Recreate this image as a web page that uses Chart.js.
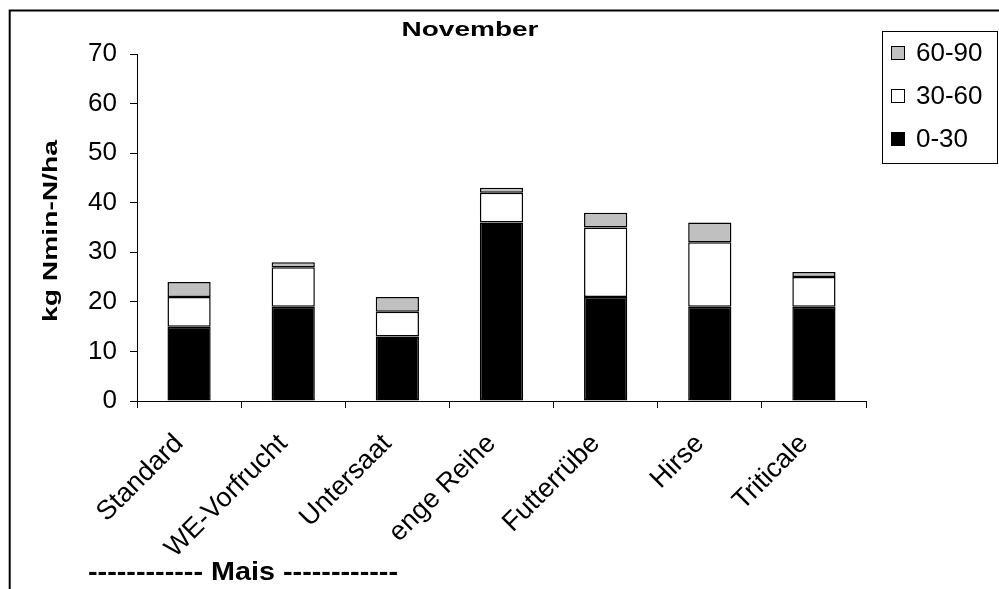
<!DOCTYPE html>
<html>
<head>
<meta charset="utf-8">
<script src="https://cdn.jsdelivr.net/npm/chart.js@4.4.1/dist/chart.umd.min.js"></script>
<style>
  html, body { margin: 0; padding: 0; background: #fff; }
  #wrap { position: relative; width: 999px; height: 589px; }
</style>
</head>
<body>
<div id="wrap"><canvas id="c" width="999" height="589"></canvas></div>
<script>
const categories = ['Standard', 'WE-Vorfrucht', 'Untersaat', 'enge Reihe', 'Futterrübe', 'Hirse', 'Triticale'];
const depth0_30  = [15, 19, 13, 36, 21, 19, 19];
const depth30_60 = [6, 8, 5, 6, 14, 13, 6];
const depth60_90 = [3, 1, 3, 1, 3, 4, 1];
const seriesLabels = ['0-30', '30-60', '60-90'];
const chartTitle = 'November';
const yAxisTitle = 'kg Nmin-N/ha';
const groupLabel = '------------ Mais ------------';

const FONT = "'Liberation Sans', Arial, sans-serif";

function stretchedText(ctx, text, x, y, width, align) {
  const natural = ctx.measureText(text).width;
  const sx = width / natural;
  ctx.save();
  ctx.translate(align === 'center' ? x - width / 2 : x, y);
  ctx.scale(sx, 1);
  ctx.textAlign = 'left';
  ctx.fillText(text, 0, 0);
  ctx.restore();
}

const decorPlugin = {
  id: 'decor',
  beforeDraw(chart) {
    const ctx = chart.ctx;
    ctx.save();
    ctx.fillStyle = '#fff';
    ctx.fillRect(0, 0, chart.width, chart.height);
    ctx.strokeStyle = '#000';
    ctx.lineWidth = 2;
    ctx.beginPath();
    ctx.moveTo(999, 10.5);
    ctx.lineTo(9.7, 10.5);
    ctx.lineTo(9.7, 589);
    ctx.stroke();
    ctx.restore();
  },
  afterDraw(chart) {
    const ctx = chart.ctx;
    ctx.save();
    ctx.fillStyle = '#000';
    ctx.textBaseline = 'alphabetic';
    // title
    ctx.font = 'bold 20px ' + FONT;
    stretchedText(ctx, chartTitle, 470, 36, 137, 'center');
    // y axis title
    ctx.save();
    ctx.translate(57, 231);
    ctx.rotate(-Math.PI / 2);
    ctx.font = 'bold 20px ' + FONT;
    stretchedText(ctx, yAxisTitle, 0, 0, 182, 'center');
    ctx.restore();
    // group label
    ctx.font = 'bold 25px ' + FONT;
    stretchedText(ctx, groupLabel, 88, 580, 310, 'left');
    // legend
    const bx = 882, by = 31, bw = 115, bh = 132;
    ctx.fillStyle = '#fff';
    ctx.fillRect(bx, by, bw, bh);
    ctx.strokeStyle = '#000';
    ctx.lineWidth = 1;
    ctx.strokeRect(bx + 0.5, by + 0.5, bw, bh);
    const ds = chart.data.datasets.slice().reverse();
    ctx.font = '26px ' + FONT;
    ctx.textBaseline = 'middle';
    ctx.textAlign = 'left';
    ds.forEach((d, i) => {
      const cy = 53 + i * 43;
      ctx.fillStyle = d.backgroundColor;
      ctx.fillRect(891, cy - 7, 14, 14);
      ctx.strokeStyle = '#000';
      ctx.strokeRect(891.5, cy - 6.5, 13, 13);
      ctx.fillStyle = '#000';
      ctx.fillText(d.label, 916, cy + 1);
    });
    ctx.restore();
  }
};

const commonBar = {
  borderColor: '#000',
  borderWidth: 1.5,
  borderSkipped: false,
  categoryPercentage: 1,
  barPercentage: 0.415
};

new Chart(document.getElementById('c'), {
  type: 'bar',
  data: {
    labels: categories,
    datasets: [
      Object.assign({ label: seriesLabels[0], data: depth0_30, backgroundColor: '#000000' }, commonBar),
      Object.assign({ label: seriesLabels[1], data: depth30_60, backgroundColor: '#FFFFFF' }, commonBar),
      Object.assign({ label: seriesLabels[2], data: depth60_90, backgroundColor: '#C0C0C0' }, commonBar)
    ]
  },
  options: {
    responsive: false,
    animation: false,
    devicePixelRatio: 1,
    layout: { padding: { left: 0, top: 54, right: 133, bottom: 0 } },
    plugins: {
      legend: { display: false },
      title: { display: false },
      tooltip: { enabled: false }
    },
    scales: {
      x: {
        stacked: true,
        grid: { display: true, drawOnChartArea: false, drawTicks: true, tickLength: 7, color: '#000', offset: true },
        border: { display: true, color: '#000', width: 1 },
        ticks: {
          color: '#000',
          font: { family: FONT, size: 27 },
          minRotation: 45,
          maxRotation: 45,
          padding: 20,
          labelOffset: -10,
          autoSkip: false
        },
        afterFit(scale) { scale.height = 188; }
      },
      y: {
        stacked: true,
        min: 0,
        max: 70,
        grid: { display: true, drawOnChartArea: false, drawTicks: true, tickLength: 7, color: '#000' },
        border: { display: true, color: '#000', width: 1 },
        ticks: {
          stepSize: 10,
          color: '#000',
          font: { family: FONT, size: 26 },
          padding: 13
        },
        afterFit(scale) { scale.width = 137; }
      }
    }
  },
  plugins: [decorPlugin]
});
</script>
</body>
</html>
